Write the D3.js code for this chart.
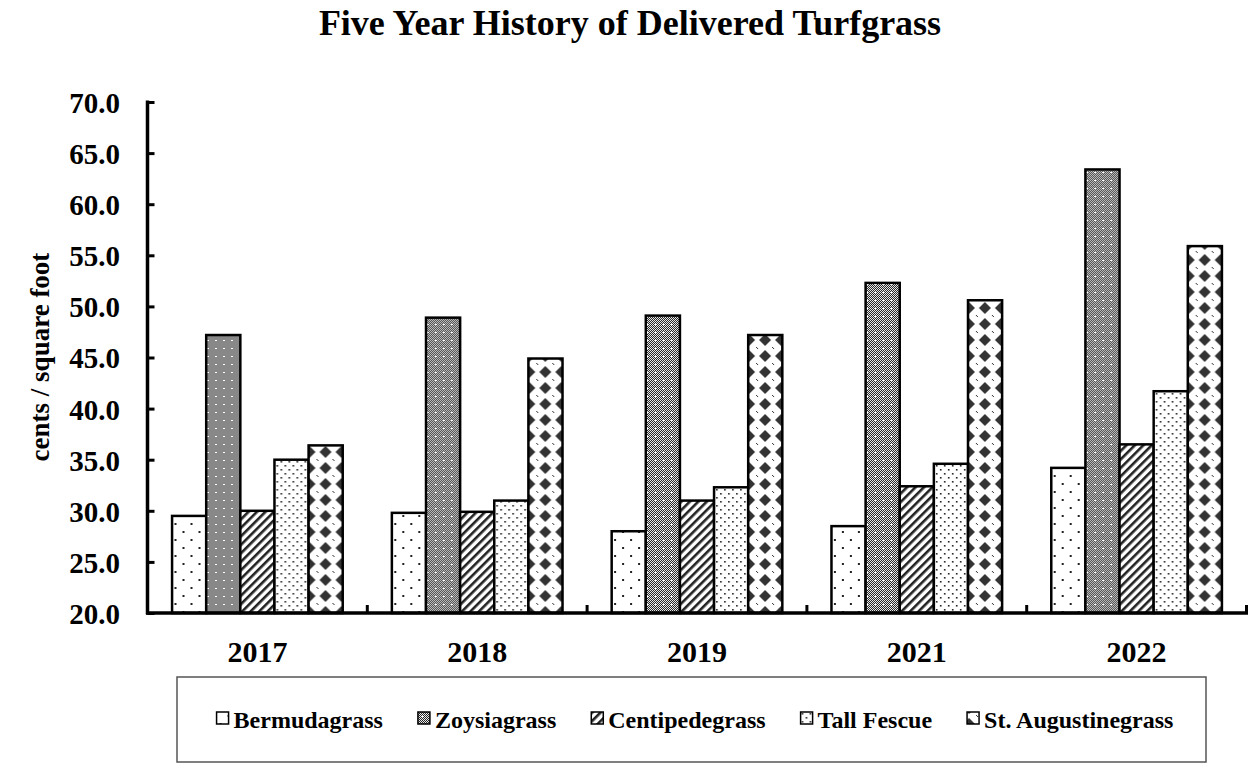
<!DOCTYPE html>
<html>
<head>
<meta charset="utf-8">
<script src="https://cdn.jsdelivr.net/npm/d3@7"></script>
<style>
    html, body { margin: 0; padding: 0; background: #fff; }
    svg { display: block; }
    text { font-family: "Liberation Serif", "Times New Roman", serif; font-weight: bold; fill: #000; }
</style>
</head>
<body>
<div id="chart"></div>
<script>
// ============================================================
// DATA — cents per square foot
// ============================================================

const years = ['2017', '2018', '2019', '2021', '2022'];
const grasses = ['Bermudagrass', 'Zoysiagrass', 'Centipedegrass', 'Tall Fescue', 'St. Augustinegrass'];

const bermudagrass     = [29.5, 29.8, 28.0, 28.5, 34.2];
const zoysiagrass      = [47.2, 48.9, 49.1, 52.3, 63.4];
const centipedegrass   = [30.0, 29.9, 31.0, 32.4, 36.5];
const tallFescue       = [35.0, 31.0, 32.3, 34.6, 41.7];
const stAugustinegrass = [36.4, 44.9, 47.2, 50.6, 55.9];

const yTicks = [20, 25, 30, 35, 40, 45, 50, 55, 60, 65, 70];

const title = 'Five Year History of Delivered Turfgrass';
const yLabel = 'cents / square foot';

// ============================================================
// Setup
// ============================================================

const width = 1249;
const height = 763;
const margin = { top: 102, right: 2.5, bottom: 150, left: 147.5 };

const series = [bermudagrass, zoysiagrass, centipedegrass, tallFescue, stAugustinegrass];
const patternIds = ['pat-bermuda', 'pat-zoysia', 'pat-centipede', 'pat-fescue', 'pat-staug'];

const svg = d3.select('#chart')
    .append('svg')
    .attr('width', width)
    .attr('height', height);

const defs = svg.append('defs');
buildPatterns(defs);

const x0 = d3.scaleBand()
    .domain(years)
    .range([margin.left, width - margin.right])
    .padding(0);

const x1 = d3.scaleBand()
    .domain(grasses)
    .range([0, x0.bandwidth()])
    .paddingInner(0)
    .paddingOuter(0.72);

const y = d3.scaleLinear()
    .domain([20, 70])
    .range([height - margin.bottom, margin.top]);

const yBase = y(20);

// ============================================================
// Bars
// ============================================================

const groups = svg.append('g')
    .selectAll('g')
    .data(years)
    .join('g')
    .attr('transform', d => `translate(${x0(d)},0)`);

groups.selectAll('rect')
    .data((yr, i) => grasses.map((g, j) => ({ grass: g, idx: j, value: series[j][i] })))
    .join('rect')
    .attr('x', d => x1(d.grass))
    .attr('y', d => y(d.value))
    .attr('width', x1.bandwidth())
    .attr('height', d => yBase - y(d.value))
    .attr('fill', d => `url(#${patternIds[d.idx]})`)
    .attr('stroke', '#000')
    .attr('stroke-width', 2.5);

// ============================================================
// Axes
// ============================================================

const yAxis = svg.append('g')
    .attr('transform', `translate(${margin.left},0)`)
    .call(d3.axisLeft(y)
        .tickValues(yTicks)
        .tickSize(-7)
        .tickPadding(27.5)
        .tickFormat(d3.format('.1f')));

yAxis.select('.domain').remove();
yAxis.selectAll('line').attr('stroke', '#000').attr('stroke-width', 3);
yAxis.selectAll('text')
    .style('font-size', '29px')
    .attr('dy', '0.36em');
yAxis.attr('font-family', null).attr('font-size', null);

// y axis line
svg.append('line')
    .attr('x1', margin.left).attr('x2', margin.left)
    .attr('y1', y(70) - 1.5).attr('y2', yBase + 1.5)
    .attr('stroke', '#000')
    .attr('stroke-width', 3.5);

// x axis line
svg.append('line')
    .attr('x1', margin.left - 1.5).attr('x2', width - 1)
    .attr('y1', yBase).attr('y2', yBase)
    .attr('stroke', '#000')
    .attr('stroke-width', 3.5);

// x ticks at the group boundaries
svg.append('g')
    .selectAll('line')
    .data(years)
    .join('line')
    .attr('x1', d => x0(d) + x0.bandwidth())
    .attr('x2', d => x0(d) + x0.bandwidth())
    .attr('y1', yBase)
    .attr('y2', yBase - 8)
    .attr('stroke', '#000')
    .attr('stroke-width', 3);

svg.append('g')
    .selectAll('text')
    .data(years)
    .join('text')
    .attr('x', d => x0(d) + x0.bandwidth() / 2)
    .attr('y', 662)
    .attr('text-anchor', 'middle')
    .style('font-size', '30px')
    .text(d => d);

// ============================================================
// Titles
// ============================================================

svg.append('text')
    .attr('x', 630)
    .attr('y', 35)
    .attr('text-anchor', 'middle')
    .style('font-size', '36px')
    .text(title);

svg.append('text')
    .attr('transform', `translate(49,357) rotate(-90)`)
    .attr('text-anchor', 'middle')
    .style('font-size', '27px')
    .text(yLabel);

// ============================================================
// Legend
// ============================================================

const legendBox = { x: 177, y: 677, w: 1029, h: 85 };

svg.append('rect')
    .attr('x', legendBox.x)
    .attr('y', legendBox.y)
    .attr('width', legendBox.w)
    .attr('height', legendBox.h)
    .attr('fill', 'none')
    .attr('stroke', '#555')
    .attr('stroke-width', 1.5);

const legend = svg.append('g');
const swatch = 12;
const swatchGap = 5;
const itemGap = 35;

const items = legend.selectAll('g')
    .data(grasses)
    .join('g');

items.append('rect')
    .attr('x', 0)
    .attr('y', -8)
    .attr('width', swatch)
    .attr('height', swatch)
    .attr('fill', (d, i) => `url(#${patternIds[i]})`)
    .attr('stroke', '#000')
    .attr('stroke-width', 1.5);

items.append('text')
    .attr('x', swatch + swatchGap)
    .attr('y', 8)
    .style('font-size', '24px')
    .text(d => d);

// lay the items out one after another, then centre them
let cursor = 0;
items.each(function() {
    const w = d3.select(this).select('text').node().getComputedTextLength();
    d3.select(this).attr('data-x', cursor);
    cursor += swatch + swatchGap + w + itemGap;
});
const totalW = cursor - itemGap;
const startX = 695 - totalW / 2;
items.attr('transform', function() {
    return `translate(${startX + +this.getAttribute('data-x')},720)`;
});

// ============================================================
// Fill patterns (black & white hatches like the original)
// ============================================================

function buildPatterns(defs) {
    // sparse dots
    const p1 = defs.append('pattern')
        .attr('id', 'pat-bermuda')
        .attr('patternUnits', 'userSpaceOnUse')
        .attr('width', 16).attr('height', 16);
    p1.append('rect').attr('width', 16).attr('height', 16).attr('fill', '#fff');
    p1.append('rect').attr('x', 3).attr('y', 3).attr('width', 2).attr('height', 2).attr('fill', '#222');
    p1.append('rect').attr('x', 11).attr('y', 11).attr('width', 2).attr('height', 2).attr('fill', '#222');

    // fine checker with light crosses
    const p2 = defs.append('pattern')
        .attr('id', 'pat-zoysia')
        .attr('patternUnits', 'userSpaceOnUse')
        .attr('width', 8).attr('height', 8);
    p2.append('rect').attr('width', 8).attr('height', 8).attr('fill', '#fff');
    d3.range(8).forEach(r => {
        d3.range(8).forEach(c => {
            if ((r + c) % 2 === 0) {
                p2.append('rect').attr('x', c).attr('y', r).attr('width', 1).attr('height', 1).attr('fill', '#111');
            }
        });
    });
    p2.append('rect').attr('x', 3).attr('y', 4).attr('width', 3).attr('height', 1).attr('fill', '#fff');
    p2.append('rect').attr('x', 4).attr('y', 3).attr('width', 1).attr('height', 3).attr('fill', '#fff');

    // diagonal stripes
    const p3 = defs.append('pattern')
        .attr('id', 'pat-centipede')
        .attr('patternUnits', 'userSpaceOnUse')
        .attr('width', 6).attr('height', 6)
        .attr('patternTransform', 'rotate(45)');
    p3.append('rect').attr('width', 6).attr('height', 6).attr('fill', '#fff');
    p3.append('rect').attr('x', 0).attr('y', 0).attr('width', 2.6).attr('height', 6).attr('fill', '#222');

    // dense dots
    const p4 = defs.append('pattern')
        .attr('id', 'pat-fescue')
        .attr('patternUnits', 'userSpaceOnUse')
        .attr('width', 8).attr('height', 8);
    p4.append('rect').attr('width', 8).attr('height', 8).attr('fill', '#fff');
    p4.append('rect').attr('x', 1).attr('y', 1).attr('width', 1.6).attr('height', 1.6).attr('fill', '#222');
    p4.append('rect').attr('x', 5).attr('y', 5).attr('width', 1.6).attr('height', 1.6).attr('fill', '#222');

    // diamonds
    const p5 = defs.append('pattern')
        .attr('id', 'pat-staug')
        .attr('patternUnits', 'userSpaceOnUse')
        .attr('width', 16).attr('height', 16)
        .attr('x', 10).attr('y', 12);
    p5.append('rect').attr('width', 16).attr('height', 16).attr('fill', '#fff');
    p5.append('path').attr('d', 'M8,2 L14,8 L8,14 L2,8 Z').attr('fill', '#333');
    p5.append('rect').attr('x', -1).attr('y', -1).attr('width', 2).attr('height', 2).attr('fill', '#333');
    p5.append('rect').attr('x', 15).attr('y', 15).attr('width', 2).attr('height', 2).attr('fill', '#333');
}
</script>
</body>
</html>
